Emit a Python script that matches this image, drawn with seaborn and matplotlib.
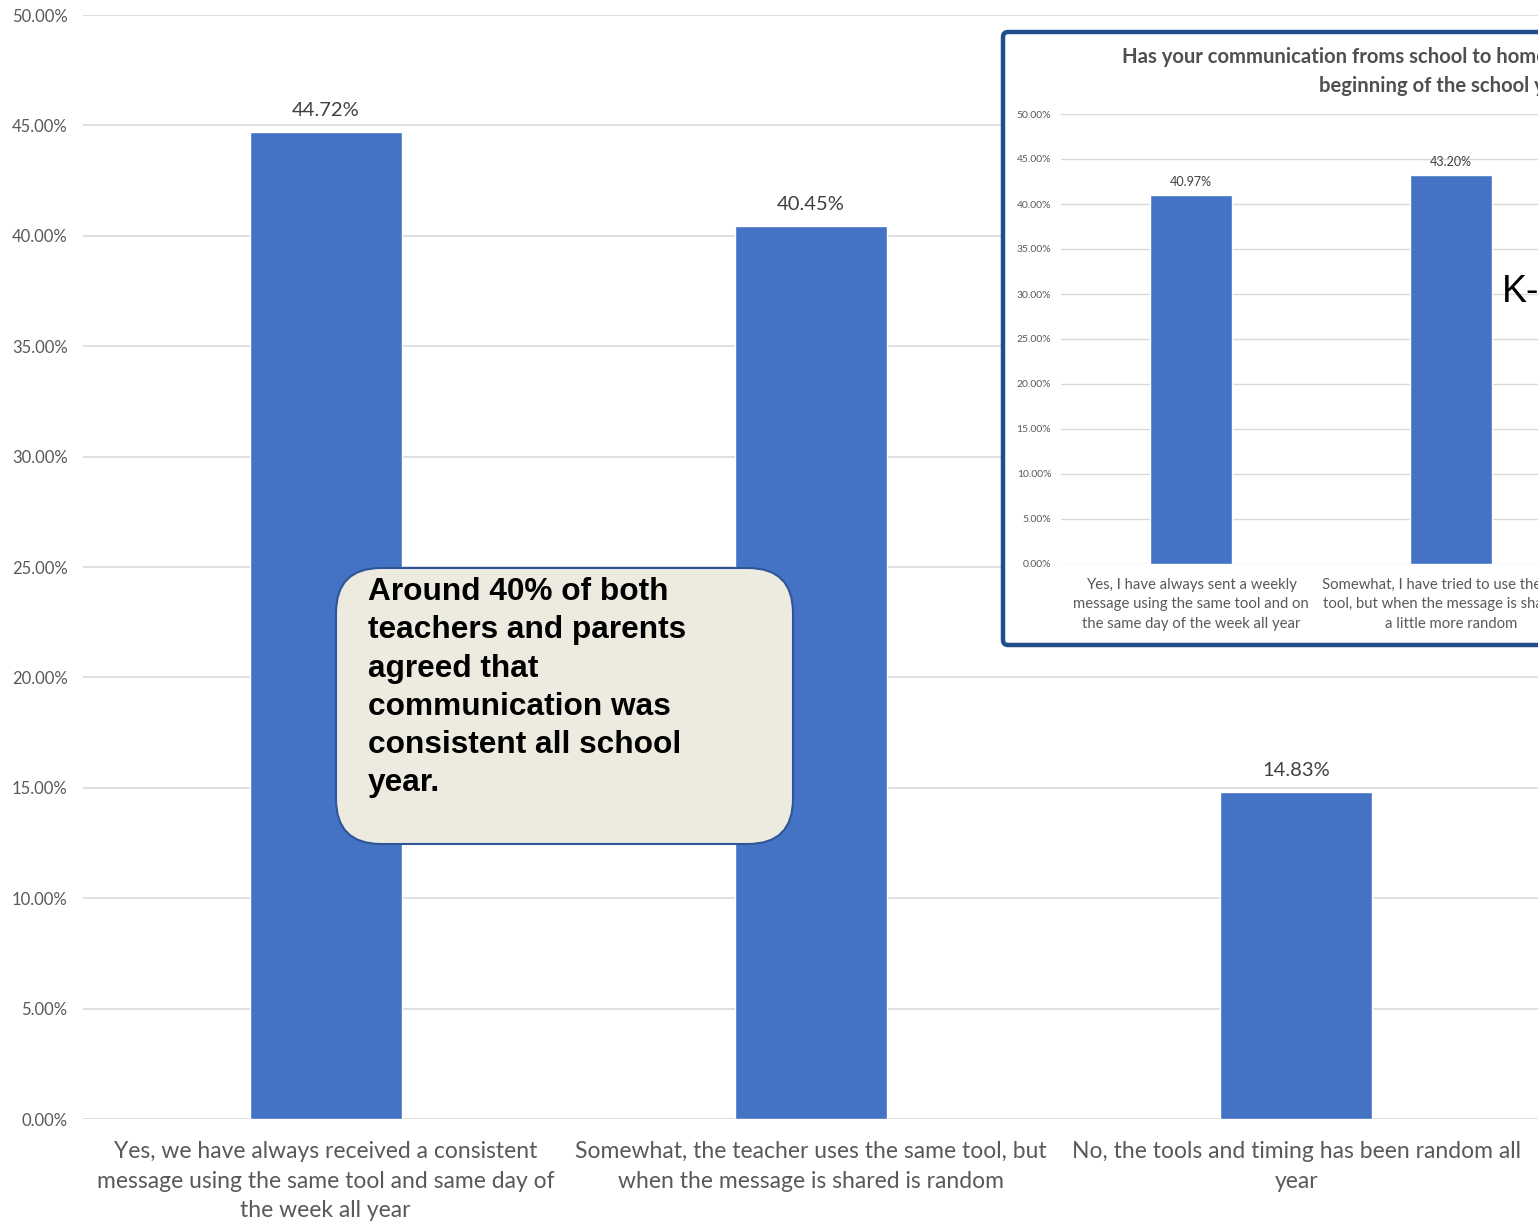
import matplotlib
matplotlib.use("Agg")
import matplotlib.pyplot as plt
import seaborn as sns
import pandas as pd
from matplotlib.patches import FancyBboxPatch
from matplotlib.transforms import IdentityTransform
from matplotlib.ticker import FuncFormatter, MultipleLocator

# ---------------- data ----------------
main_labels = [
    "Yes, we have always received a consistent\nmessage using the same tool and same day of\nthe week all year",
    "Somewhat, the teacher uses the same tool, but\nwhen the message is shared is random",
    "No, the tools and timing has been random all\nyear",
]
main_values = [44.72, 40.45, 14.83]

inset_labels = [
    "Yes, I have always sent a weekly\nmessage using the same tool and on\nthe same day of the week all year",
    "Somewhat, I have tried to use the same\ntool, but when the message is shared is\na little more random",
]
inset_values = [40.97, 43.20]
inset_title = ("Has your communication froms school to home been consistent since the\n"
               "beginning of the school year?")

callout_text = ("Around 40% of both\nteachers and parents\nagreed that\n"
                "communication was\nconsistent all school\nyear.")
side_text = "K-"

# ---------------- style ----------------
sns.set_theme(style="white")
plt.rcParams["font.family"] = ["Lato", "DejaVu Sans"]

BLUE = "#4472C4"
GRID = "#d9d9d9"
TICK = "#595959"
VAL = "#404040"

W, H = 1538, 1223
fig = plt.figure(figsize=(W / 100, H / 100), dpi=100)
fig.patch.set_facecolor("white")

pct = FuncFormatter(lambda v, p: f"{v:.2f}%")

# ---------------- main chart ----------------
ax = fig.add_axes([83 / W, 104 / H, 1456 / W, 1104 / H])
df = pd.DataFrame({"cat": main_labels, "val": main_values})
sns.barplot(data=df, x="cat", y="val", color=BLUE, saturation=1, width=0.313, ax=ax)
ax.set_xlim(-0.5, 2.5)
ax.set_ylim(0, 50)
ax.yaxis.set_major_locator(MultipleLocator(5))
ax.yaxis.set_major_formatter(pct)
ax.grid(axis="y", color=GRID, lw=1.2)
ax.grid(axis="x", visible=False)
ax.set_axisbelow(True)
for s in ax.spines.values():
    s.set_visible(False)
ax.set_xlabel("")
ax.set_ylabel("")
ax.tick_params(axis="y", length=0, pad=11, labelsize=12, labelcolor=TICK)
ax.tick_params(axis="x", length=0, pad=16, labelsize=16.5, labelcolor=TICK)
for lbl in ax.get_xticklabels():
    lbl.set_linespacing(1.5)
ax.bar_label(ax.containers[0], labels=[f"{v:.2f}%" for v in main_values],
             padding=9, fontsize=14.5, color=VAL)

# ---------------- inset frame ----------------
frame = FancyBboxPatch((1003, H - 645), 700, 613,
                       boxstyle="round,pad=0,rounding_size=5",
                       transform=IdentityTransform(), facecolor="white",
                       edgecolor="#1f4e89", linewidth=3.2, zorder=1)
fig.add_artist(frame)

# ---------------- inset chart ----------------
ax2 = fig.add_axes([1061 / W, (H - 564) / H, 780 / W, 450 / H])
ax2.set_zorder(2)
ax2.patch.set_alpha(0)
dfi = pd.DataFrame({"cat": inset_labels, "val": inset_values})
sns.barplot(data=dfi, x="cat", y="val", color=BLUE, saturation=1, width=0.315, ax=ax2)
ax2.set_xlim(-0.5, 2.5)
ax2.set_ylim(0, 50)
ax2.yaxis.set_major_locator(MultipleLocator(5))
ax2.yaxis.set_major_formatter(pct)
ax2.grid(axis="y", color=GRID, lw=1)
ax2.grid(axis="x", visible=False)
ax2.set_axisbelow(True)
for s in ax2.spines.values():
    s.set_visible(False)
ax2.set_xlabel("")
ax2.set_ylabel("")
ax2.tick_params(axis="y", length=0, pad=7, labelsize=7.5, labelcolor=TICK)
ax2.tick_params(axis="x", length=0, pad=10, labelsize=10.7, labelcolor=TICK)
for lbl in ax2.get_xticklabels():
    lbl.set_linespacing(1.5)
ax2.bar_label(ax2.containers[0], labels=[f"{v:.2f}%" for v in inset_values],
              padding=5, fontsize=9, color=VAL)
ax2.set_title(inset_title, fontsize=14.6, fontweight="bold", color="#505050", pad=16,
              linespacing=1.55)

# ---------------- callout ----------------
box = FancyBboxPatch((336, H - 844), 457, 276,
                     boxstyle="round,pad=0,rounding_size=45",
                     transform=IdentityTransform(), facecolor="#EDEBE0",
                     edgecolor="#2F5597", linewidth=1.5, zorder=3)
fig.add_artist(box)
fig.text(368 / W, (H - 577) / H, callout_text, ha="left", va="top",
         fontsize=22.8, fontweight="bold", family=["Liberation Sans", "DejaVu Sans"],
         color="black", linespacing=1.36, zorder=4)

fig.text(1502 / W, (H - 292) / H, side_text, ha="left", va="center",
         fontsize=27, family=["Liberation Sans", "DejaVu Sans"], color="black", zorder=5)

fig.savefig("out.png", dpi=100)
